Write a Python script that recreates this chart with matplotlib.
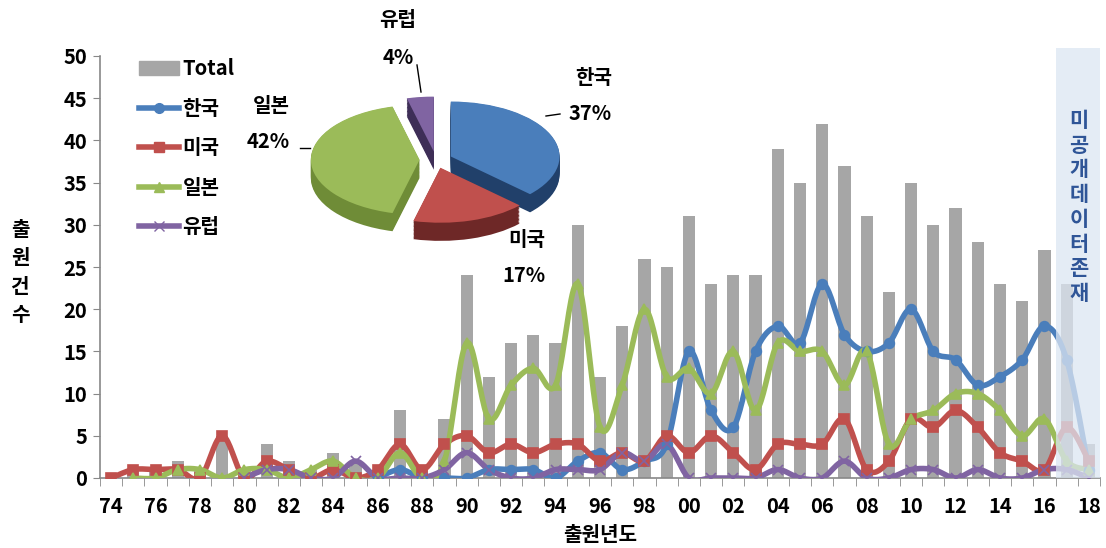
import numpy as np
import matplotlib
matplotlib.use("Agg")
import matplotlib.pyplot as plt
from matplotlib.patches import Wedge, Patch
from matplotlib.lines import Line2D

plt.rcParams['font.family'] = ['Noto Sans CJK KR', 'DejaVu Sans']
plt.rcParams['font.weight'] = 'bold'
plt.rcParams['axes.labelweight'] = 'bold'

# 출원년도별 건수 (1974-2018)
years = np.arange(1974, 2019)
tick_years = years[::2]
tick_labels = [f"{y % 100:02d}" for y in tick_years]

total = [0, 1, 1, 2, 1, 5, 1, 4, 2, 1, 3, 2, 1, 8, 1, 7, 24, 12, 16, 17, 16, 30, 12,
         18, 26, 25, 31, 23, 24, 24, 39, 35, 42, 37, 31, 22, 35, 30, 32, 28, 23, 21,
         27, 23, 4]

korea_start = 1986
korea = [0, 1, 0, 0, 0, 1, 1, 1, 0, 2, 3, 1, 2, 4, 15, 8, 6, 15, 18, 16, 23, 17, 15,
         16, 20, 15, 14, 11, 12, 14, 18, 14, 1]

usa_start = 1974
usa = [0, 1, 1, 1, 0, 5, 0, 2, 1, 0, 1, 0, 1, 4, 1, 4, 5, 3, 4, 3, 4, 4, 2, 3, 2, 5,
       3, 5, 3, 1, 4, 4, 4, 7, 1, 2, 7, 6, 8, 6, 3, 2, 1, 6, 2]

japan_start = 1975
japan = [0, 0, 1, 1, 0, 1, 1, 0, 1, 2, 0, 0, 3, 0, 2, 16, 7, 11, 13, 11, 23, 6, 11,
         20, 12, 13, 10, 15, 8, 16, 15, 15, 11, 15, 4, 7, 8, 10, 10, 8, 5, 7, 2, 1]

europe_start = 1980
europe = [0, 1, 1, 0, 0, 2, 0, 0, 0, 1, 3, 1, 0, 0, 1, 1, 1, 3, 2, 4, 0, 0, 0, 0, 1,
          0, 0, 2, 0, 0, 1, 1, 0, 1, 0, 0, 1, 1, 0]

# 국가별 점유율 (%)
pie_names = ['한국', '미국', '일본', '유럽']
pie_share = [37, 17, 42, 4]

c_kr, c_us, c_jp, c_eu = '#4A7EBB', '#C0504D', '#9BBB59', '#8064A2'
side_cols = ['#21406A', '#6E2827', '#6F8C37', '#3E2E57']


def smooth(x, y, n=20):
    # Bezier smoothing through every point (spreadsheet style)
    x = np.asarray(x, float)
    y = np.asarray(y, float)
    px = np.concatenate([[x[0]], x, [x[-1]]])
    py = np.concatenate([[y[0]], y, [y[-1]]])
    t = np.linspace(0, 1, n, endpoint=False)
    xs, ys = [], []
    for i in range(1, len(px) - 2):
        p0, p1, p2, p3 = [np.array([px[j], py[j]]) for j in (i - 1, i, i + 1, i + 2)]
        c1 = p1 + (p2 - p0) / 6
        c2 = p2 - (p3 - p1) / 6
        b = ((1 - t) ** 3)[:, None] * p1 + (3 * (1 - t) ** 2 * t)[:, None] * c1 \
            + (3 * (1 - t) * t ** 2)[:, None] * c2 + (t ** 3)[:, None] * p2
        xs.append(b[:, 0])
        ys.append(b[:, 1])
    xs.append([x[-1]])
    ys.append([y[-1]])
    return np.concatenate(xs), np.concatenate(ys)


fig = plt.figure(figsize=(11.06, 5.48), dpi=100)
ax = fig.add_axes([100 / 1106, 1 - 478 / 548, 1000 / 1106, 422 / 548])

ax.bar(years, total, width=0.55, color='#A6A6A6', zorder=1)

series = [
    (korea_start, korea, c_kr, 'o', 7),
    (usa_start, usa, c_us, 's', 6.5),
    (japan_start, japan, c_jp, '^', 6.5),
    (europe_start, europe, c_eu, 'x', 6.5),
]
for start, vals, col, mk, ms in series:
    xs = np.arange(start, start + len(vals))
    sx, sy = smooth(xs, vals)
    ax.plot(sx, sy, color=col, lw=4, solid_capstyle='round', zorder=3)
    ax.plot(xs, vals, ls='none', marker=mk, ms=ms, color=col,
            mew=1.2, zorder=4)

# 미공개 구간
ax.axvspan(2016.5, 2018.5, ymin=0, ymax=1.02, color='#DCE6F2', alpha=0.75,
           lw=0, zorder=5, clip_on=False)
ax.text(2017.55, 43.6, '\n'.join('미공개데이터존재'), ha='center', va='top',
        fontsize=15, color='#2F5597', linespacing=1.22, zorder=6)

ax.set_xlim(1973.5, 2018.5)
ax.set_ylim(0, 50)
ax.set_yticks(np.arange(0, 51, 5))
ax.set_xticks(tick_years)
ax.set_xticklabels(tick_labels)
ax.set_xticks(np.arange(1973.5, 2019, 1), minor=True)
ax.tick_params(axis='x', which='major', length=0, pad=13, labelsize=14.5)
ax.tick_params(axis='x', which='minor', length=6, color='#888888', direction='out')
ax.tick_params(axis='y', length=5, color='#888888', pad=4, labelsize=14.5)
for s in ('top', 'right'):
    ax.spines[s].set_visible(False)
for s in ('left', 'bottom'):
    ax.spines[s].set_color('#888888')
    ax.spines[s].set_linewidth(1.2)

ax.set_xlabel('출원년도', fontsize=14.5, labelpad=5)
fig.text(20 / 1106, 1 - 272 / 548, '\n'.join('출원건수'), ha='center', va='center',
         fontsize=14.5, linespacing=1.45)

handles = [
    Patch(color='#A6A6A6'),
    Line2D([], [], color=c_kr, lw=4, marker='o', ms=7),
    Line2D([], [], color=c_us, lw=4, marker='s', ms=6.5),
    Line2D([], [], color=c_jp, lw=4, marker='^', ms=6.5),
    Line2D([], [], color=c_eu, lw=4, marker='x', ms=6.5),
]
fig.legend(handles, ['Total'] + pie_names, loc='upper left',
           bbox_to_anchor=(121 / 1106, 1 - 40 / 548), frameon=False,
           fontsize=14.5, handlelength=2.0, handletextpad=0.15, labelspacing=0.92)

# 점유율 파이 (3D 형태)
pax = fig.add_axes([300 / 1106, 1 - 250 / 548, 275 / 1106, 165 / 548])
pax.set_xlim(-1.25, 1.28)
pax.set_ylim(-1.64, 1.36)
pax.axis('off')
top_cols = [c_kr, c_us, c_jp, c_eu]
depth = 0.33
angle = 90.0
wedges = []
for share, tc, sc in zip(pie_share, top_cols, side_cols):
    th2 = angle
    th1 = angle - share * 3.6
    mid = np.deg2rad((th1 + th2) / 2)
    off = 0.15
    cx, cy = off * np.cos(mid), off * np.sin(mid)
    wedges.append((cx, cy, th1, th2, tc, sc))
    angle = th1
for k in np.linspace(depth, 0.01, 14):
    for cx, cy, th1, th2, tc, sc in wedges:
        pax.add_patch(Wedge((cx, cy - k), 1.0, th1, th2, color=sc, lw=0))
for cx, cy, th1, th2, tc, sc in wedges:
    pax.add_patch(Wedge((cx, cy), 1.0, th1, th2, color=tc, lw=0))

fig.text(398 / 1106, 1 - 20 / 548, '유럽', ha='center', va='center', fontsize=14.5)
fig.text(398 / 1106, 1 - 57 / 548, '4%', ha='center', va='center', fontsize=14.5)
fig.text(594 / 1106, 1 - 77 / 548, '한국', ha='center', va='center', fontsize=14.5)
fig.text(590 / 1106, 1 - 114 / 548, '37%', ha='center', va='center', fontsize=14.5)
fig.text(271 / 1106, 1 - 106 / 548, '일본', ha='center', va='center', fontsize=14.5)
fig.text(268 / 1106, 1 - 141 / 548, '42%', ha='center', va='center', fontsize=14.5)
fig.text(527 / 1106, 1 - 240 / 548, '미국', ha='center', va='center', fontsize=14.5)
fig.text(524 / 1106, 1 - 276 / 548, '17%', ha='center', va='center', fontsize=14.5)
for (x0, y0), (x1, y1) in [((417, 65), (421, 92)), ((546, 116), (560, 114)),
                           ((300, 148), (310, 148))]:
    fig.add_artist(Line2D([x0 / 1106, x1 / 1106], [1 - y0 / 548, 1 - y1 / 548],
                          color='black', lw=1))

fig.savefig('out.png', dpi=100)
